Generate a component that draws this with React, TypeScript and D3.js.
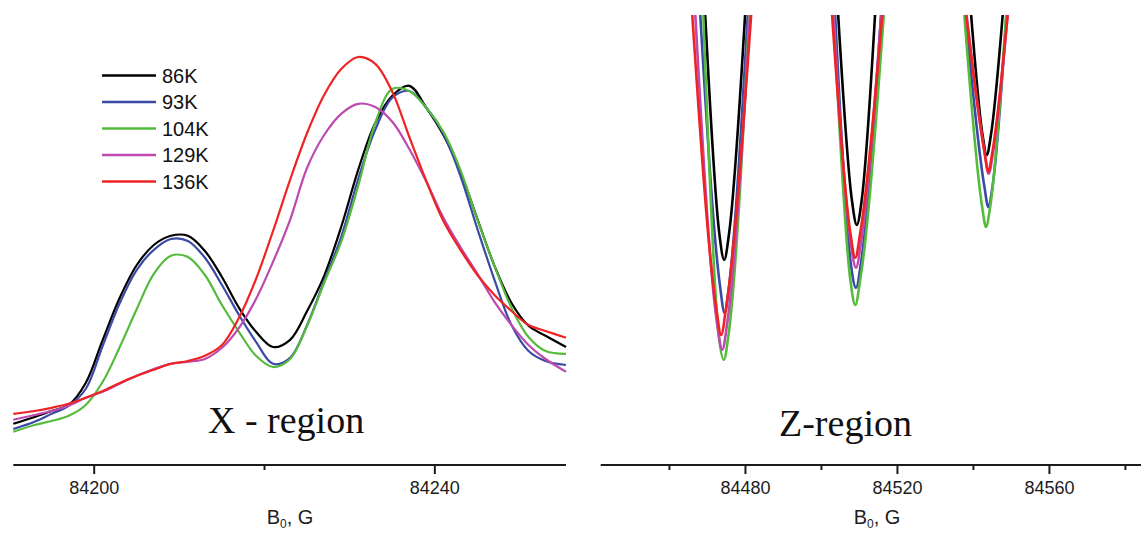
import React from "react";
import * as d3 from "d3";

// temperatures and colours of the five spectra
const temps = ["86K", "93K", "104K", "129K", "136K"];
const colors = ["#000000", "#3b4aa5", "#55bb3c", "#bd4aae", "#ee2424"];

// X-region: field (G) and intensity (a.u.)
const xField = [
  84190.5, 84193, 84195, 84197, 84199, 84201, 84203, 84205, 84207, 84209, 84211,
  84213, 84215, 84217, 84219, 84221, 84223, 84225, 84227, 84229, 84231, 84233,
  84235, 84237, 84239, 84241, 84243, 84245, 84247, 84249, 84251, 84253, 84255.4,
];
const x86 = [
  5.3, 7.0, 8.5, 10.0, 15.5, 26.3, 36.8, 45.0, 50.0, 52.3, 52.3, 48.5, 42.0, 34.3,
  28.3, 24.5, 26.3, 33.5, 42.3, 54.5, 68.8, 80.5, 87.3, 89.8, 84.3, 77.5, 68.3,
  56.5, 44.8, 35.5, 29.8, 27.3, 24.5,
];
const x93 = [
  4.0, 5.8, 7.8, 9.8, 14.0, 24.8, 35.5, 43.8, 48.8, 51.5, 51.0, 46.8, 40.0, 32.5,
  25.8, 20.3, 21.8, 30.0, 41.0, 52.0, 66.5, 78.8, 86.8, 88.5, 84.3, 77.8, 67.3,
  54.0, 41.3, 30.0, 23.5, 21.0, 20.0,
];
const x104 = [
  3.3, 5.0, 6.0, 7.3, 10.0, 15.8, 24.5, 34.0, 42.8, 47.3, 47.0, 42.5, 35.0, 28.3,
  22.3, 19.5, 21.5, 29.8, 40.5, 50.8, 64.8, 80.5, 89.0, 88.5, 84.3, 78.3, 68.8,
  56.3, 44.8, 34.3, 27.0, 23.5, 22.8,
];
const x129 = [
  6.3, 7.5, 8.5, 9.8, 11.8, 13.3, 15.3, 17.3, 19.0, 20.3, 20.8, 21.5, 24.3, 29.3,
  36.5, 45.8, 56.3, 69.3, 77.5, 82.8, 85.3, 84.5, 80.8, 74.0, 65.8, 56.8, 49.5,
  42.8, 35.8, 30.0, 25.0, 21.5, 18.3,
];
const x136 = [
  7.8, 8.5, 9.3, 10.3, 11.8, 13.5, 15.5, 17.3, 18.8, 20.3, 21.0, 22.3, 25.0, 31.8,
  41.5, 53.5, 66.3, 78.0, 87.5, 94.0, 97.0, 95.3, 88.3, 77.0, 66.0, 56.0, 48.8,
  42.5, 37.5, 33.5, 30.0, 28.5, 26.8,
];
const xRegion = [x86, x93, x104, x129, x136];

// Z-region: three lines per spectrum, [field, intensity]
const z86 = [
  [[84469.4, 107.5], [84473.1, 53.0], [84474.4, 46.3], [84475.7, 53.0], [84479.9, 107.5]],
  [[84504.4, 107.5], [84508.0, 61.3], [84509.3, 55.0], [84510.6, 61.3], [84514.1, 107.5]],
  [[84539.4, 107.5], [84542.4, 77.5], [84543.5, 72.5], [84544.6, 77.5], [84547.7, 107.5]],
];
const z93 = [
  [[84468.1, 107.5], [84473.3, 39.8], [84474.5, 33.0], [84475.7, 39.8], [84480.6, 107.5]],
  [[84503.6, 107.5], [84507.7, 45.5], [84509.1, 39.3], [84510.4, 45.5], [84515.7, 107.5]],
  [[84537.9, 107.5], [84542.9, 64.5], [84543.9, 59.5], [84545.0, 64.5], [84548.7, 107.5]],
];
const z104 = [
  [[84468.9, 107.5], [84472.9, 28.0], [84474.3, 21.3], [84475.6, 28.0], [84481.0, 107.5]],
  [[84503.2, 107.5], [84507.6, 41.3], [84508.9, 35.0], [84510.2, 41.3], [84516.4, 107.5]],
  [[84537.6, 107.5], [84542.3, 59.5], [84543.3, 54.5], [84544.4, 59.5], [84548.6, 107.5]],
];
const z129 = [
  [[84466.8, 107.5], [84472.5, 30.5], [84473.9, 23.8], [84475.2, 30.5], [84481.2, 107.5]],
  [[84503.1, 107.5], [84507.7, 50.5], [84509.1, 44.3], [84510.4, 50.5], [84515.7, 107.5]],
  [[84538.2, 107.5], [84543.0, 72.8], [84544.0, 67.8], [84545.1, 72.8], [84549.0, 107.5]],
];
const z136 = [
  [[84466.0, 107.5], [84472.3, 34.3], [84473.6, 27.5], [84474.9, 34.3], [84481.5, 107.5]],
  [[84502.8, 107.5], [84507.6, 53.0], [84508.9, 46.8], [84510.2, 53.0], [84516.0, 107.5]],
  [[84538.1, 107.5], [84542.9, 73.3], [84543.9, 68.3], [84545.0, 73.3], [84549.0, 107.5]],
];
const zRegion = [z86, z93, z104, z129, z136];

const xMajor = [84200, 84240];
const xMinor = [84220];
const zMajor = [84480, 84520, 84560];
const zMinor = [84460, 84500, 84540, 84580];

const W = 1141;
const H = 534;
const axisY = 465;
const sans = "'Liberation Sans', Arial, sans-serif";
const serif = "'Liberation Serif', 'Times New Roman', serif";

export default function App() {
  const xL = d3.scaleLinear().domain([84190.5, 84255.4]).range([13.3, 566]);
  const xR = d3.scaleLinear().domain([84441.9, 84584.1]).range([600.7, 1141]);
  const y = d3.scaleLinear().domain([0, 100]).range([445, 45]);

  const lineL = d3
    .line<number>()
    .x((_, i) => xL(xField[i]))
    .y((d) => y(d))
    .curve(d3.curveCatmullRom);

  const lineR = d3
    .line<number[]>()
    .x((d) => xR(d[0]))
    .y((d) => y(d[1]))
    .curve(d3.curveMonotoneX);

  const fmt = d3.format("d");

  const axis = (
    scale: d3.ScaleLinear<number, number>,
    major: number[],
    minor: number[],
    x0: number,
    x1: number
  ) => (
    <g stroke="#1c1c1c">
      <line x1={x0} x2={x1} y1={axisY} y2={axisY} strokeWidth={2} />
      {major.map((t) => (
        <g key={t}>
          <line x1={scale(t)} x2={scale(t)} y1={axisY} y2={axisY + 9} strokeWidth={2} />
          <text
            x={scale(t)}
            y={494}
            textAnchor="middle"
            fontFamily={sans}
            fontSize={18}
            fill="#1c1c1c"
            stroke="none"
          >
            {fmt(t)}
          </text>
        </g>
      ))}
      {minor.map((t) => (
        <line key={t} x1={scale(t)} x2={scale(t)} y1={axisY} y2={axisY + 5} strokeWidth={2} />
      ))}
    </g>
  );

  const title = (cx: number) => (
    <text x={cx} y={524} textAnchor="middle" fontFamily={sans} fontSize={20} fill="#1c1c1c">
      B
      <tspan fontSize={12} dy={4}>
        0
      </tspan>
      <tspan dy={-4}>, G</tspan>
    </text>
  );

  return (
    <svg
      width={W}
      height={H}
      style={{ position: "absolute", left: 0, top: 0, background: "#fff" }}
    >
      <rect width={W} height={H} fill="#fff" />

      {/* X-region */}
      <g fill="none" strokeWidth={2.2} strokeLinejoin="round">
        {xRegion.map((vals, i) => (
          <path key={temps[i]} d={lineL(vals) || ""} stroke={colors[i]} />
        ))}
      </g>

      {/* Z-region */}
      <g fill="none" strokeWidth={2.6} strokeLinejoin="round">
        {zRegion.map((dips, i) =>
          dips.map((pts, j) => (
            <path key={temps[i] + j} d={lineR(pts) || ""} stroke={colors[i]} />
          ))
        )}
      </g>

      {/* legend */}
      <g>
        {temps.map((t, i) => {
          const ly = 75.5 + i * 26.5;
          return (
            <g key={t}>
              <line x1={102} x2={156} y1={ly} y2={ly} stroke={colors[i]} strokeWidth={2.4} />
              <text x={162} y={ly + 7} fontFamily={sans} fontSize={20} fill="#111">
                {t}
              </text>
            </g>
          );
        })}
      </g>

      <text x={208} y={433} fontFamily={serif} fontSize={38} fill="#111">
        X - region
      </text>
      <text x={779} y={436} fontFamily={serif} fontSize={38} fill="#111">
        Z-region
      </text>

      {axis(xL, xMajor, xMinor, 13.3, 566)}
      {axis(xR, zMajor, zMinor, 600.7, 1141)}
      {title(290)}
      {title(877)}
    </svg>
  );
}
